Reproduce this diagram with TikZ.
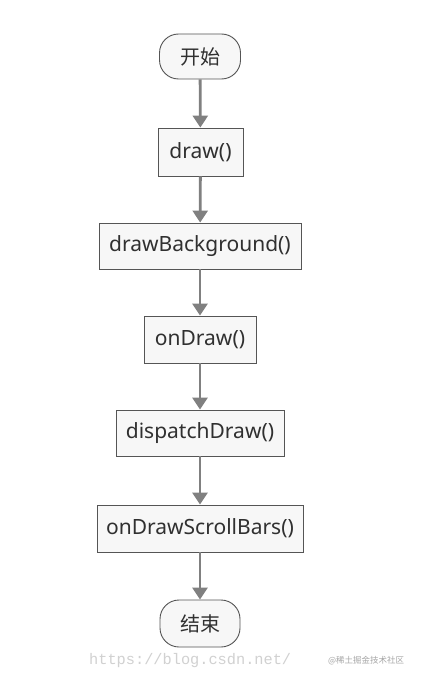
\documentclass[tikz,border=0pt]{standalone}
\usepackage{fontspec}
\setmainfont{Noto Sans}
\newfontfamily\cjk{Noto Sans CJK SC}
\newfontfamily\wmono{Liberation Mono}
\usetikzlibrary{arrows.meta}
\definecolor{boxfill}{HTML}{F7F7F7}
\definecolor{boxline}{HTML}{555555}
\definecolor{arrowc}{HTML}{808080}
\definecolor{txt}{HTML}{303030}
\tikzset{
  x=1pt, y=-1pt,
  stepbox/.style={draw=boxline, fill=boxfill, line width=0.9pt, text=txt,
    font=\fontsize{21}{24}\selectfont, inner sep=0pt, anchor=center},
  termbox/.style={stepbox, rounded corners=19pt, font=\cjk\fontsize{20}{22}\selectfont},
  flow/.style={draw=arrowc, line width=2.8pt, -{Triangle[length=12pt,width=15pt]}}
}
\begin{document}
\begin{tikzpicture}
\useasboundingbox (0,0) rectangle (422,682);
\fill[white] (0,0) rectangle (422,682);
\node[termbox, minimum width=81pt, minimum height=45pt] (start) at (200,56.5) {开始};
\node[stepbox, minimum width=85pt, minimum height=48pt] (draw) at (200.5,152) {draw()};
\node[stepbox, minimum width=202pt, minimum height=46pt] (bg) at (200,246) {drawBackground()};
\node[stepbox, minimum width=112pt, minimum height=47pt] (ondraw) at (200,339.5) {onDraw()};
\node[stepbox, minimum width=168pt, minimum height=46pt] (disp) at (200,433) {dispatchDraw()};
\node[stepbox, minimum width=206pt, minimum height=47pt] (scroll) at (200,528.5) {onDrawScrollBars()};
\node[termbox, minimum width=80pt, minimum height=47pt] (end) at (200,623.5) {结束};
\draw[flow] (start) -- (draw);
\draw[flow] (draw) -- (bg);
\draw[flow] (bg) -- (ondraw);
\draw[flow] (ondraw) -- (disp);
\draw[flow] (disp) -- (scroll);
\draw[flow] (scroll) -- (end);
\node[text=black!18, font=\wmono\fontsize{15.3}{17}\selectfont, anchor=west, inner sep=0pt] (wm) at (89,661) {https://blog.csdn.net/};
\node[text=black!35, font=\cjk\fontsize{8.5}{9}\selectfont, anchor=west, inner sep=0pt] (wm2) at (328,661) {@稀土掘金技术社区};
\end{tikzpicture}
\end{document}
